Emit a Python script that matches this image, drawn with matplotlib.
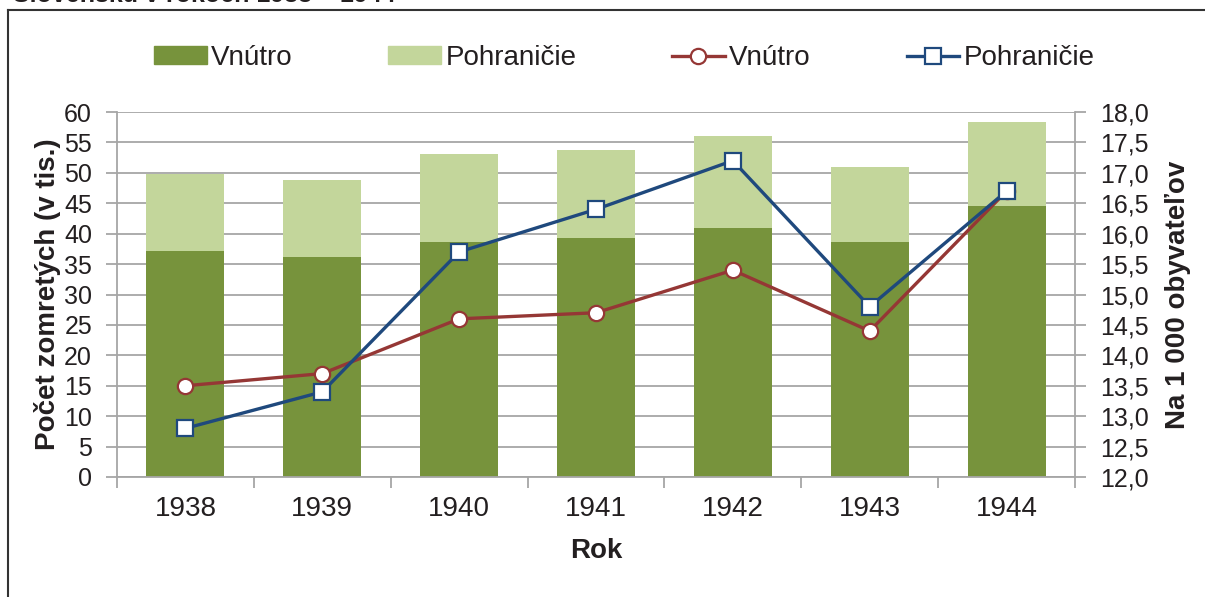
import matplotlib
matplotlib.use("Agg")
import matplotlib.pyplot as plt
import numpy as np
from matplotlib.patches import Patch
from matplotlib.lines import Line2D

plt.rcParams["font.family"] = ["Liberation Sans", "DejaVu Sans"]

# data
years = ["1938", "1939", "1940", "1941", "1942", "1943", "1944"]
deaths_inner = [37.2, 36.1, 38.7, 39.3, 41.0, 38.7, 44.5]      # Vnútro, thousands
deaths_border = [12.6, 12.8, 14.4, 14.4, 15.1, 12.3, 13.8]     # Pohraničie, thousands (stacked)
rate_inner = [13.5, 13.7, 14.6, 14.7, 15.4, 14.4, 16.7]        # per 1000 inhabitants
rate_border = [12.8, 13.4, 15.7, 16.4, 17.2, 14.8, 16.7]

DARK = "#77933C"
LIGHT = "#C3D69B"
RED = "#953735"
BLUE = "#1F497D"
GRID = "#A6A6A6"
INK = "#231F20"

fig = plt.figure(figsize=(12.05, 5.97), dpi=100)
ax = fig.add_axes([117 / 1205, 1 - 477 / 597, (1075 - 117) / 1205, (477 - 112) / 597])
x = np.arange(len(years))

ax.bar(x, deaths_inner, 0.57, color=DARK, zorder=2)
ax.bar(x, deaths_border, 0.57, bottom=deaths_inner, color=LIGHT, zorder=2)
ax.set_xlim(-0.5, len(years) - 0.5)
ax.set_ylim(0, 60)
ax.set_yticks(np.arange(0, 61, 5))
ax.yaxis.grid(True, color=GRID, lw=1.3, zorder=0)
ax.set_axisbelow(True)
for s in ["top", "right"]:
    ax.spines[s].set_visible(False)
for s in ["left", "bottom"]:
    ax.spines[s].set_color(GRID)
    ax.spines[s].set_linewidth(1.3)
ax.set_xticks(x)
ax.set_xticklabels(years)
ax.set_xticks(np.arange(-0.5, len(years)), minor=True)
ax.tick_params(axis="x", which="major", length=0, pad=14, labelsize=20, labelcolor=INK)
ax.tick_params(axis="x", which="minor", length=8, color=GRID, width=1.3)
ax.tick_params(axis="y", length=8, color=GRID, width=1.3, labelsize=18, pad=10,
               labelcolor=INK)
ax.set_xlabel("Rok", fontsize=20, fontweight="bold", labelpad=11, color=INK)
ax.set_ylabel("Počet zomretých (v tis.)", fontsize=20, fontweight="bold", labelpad=2,
              color=INK)

ax2 = ax.twinx()
ax2.plot(x, rate_inner, color=RED, lw=2.4, marker="o", ms=11, mfc="white",
         mec=RED, mew=1.6, zorder=3)
ax2.plot(x, rate_border, color=BLUE, lw=2.4, marker="s", ms=11, mfc="white",
         mec=BLUE, mew=1.6, zorder=4)
ax2.set_ylim(12, 18)
ax2.set_yticks(np.arange(12, 18.01, 0.5))
ax2.set_yticklabels([f"{v:.1f}".replace(".", ",") for v in np.arange(12, 18.01, 0.5)])
for s in ["top", "left", "bottom"]:
    ax2.spines[s].set_visible(False)
ax2.spines["right"].set_color(GRID)
ax2.spines["right"].set_linewidth(1.3)
ax2.tick_params(axis="y", length=8, color=GRID, width=1.3, labelsize=18, pad=10,
                labelcolor=INK)
ax2.set_ylabel("Na 1 000 obyvateľov", fontsize=20, fontweight="bold", labelpad=12,
               color=INK)

handles = [
    Patch(color=DARK, label="Vnútro"),
    Patch(color=LIGHT, label="Pohraničie"),
    Line2D([], [], color=RED, lw=2.4, marker="o", ms=11, mfc="white", mec=RED, mew=1.6, label="Vnútro"),
    Line2D([], [], color=BLUE, lw=2.4, marker="s", ms=11, mfc="white", mec=BLUE, mew=1.6, label="Pohraničie"),
]
leg = fig.legend(handles=handles, loc="center", bbox_to_anchor=(0.518, 1 - 58 / 597), ncol=4,
                 frameon=False, fontsize=20, handlelength=1.9, handletextpad=0.15,
                 columnspacing=3.45, handleheight=0.6)
for t in leg.get_texts():
    t.set_color(INK)

# frame and the clipped title from the source page
fig.add_artist(Line2D([8 / 1205, 8 / 1205], [0, 1 - 10 / 597], color="#333333", lw=1.5))
fig.add_artist(Line2D([8 / 1205, 1], [1 - 10 / 597, 1 - 10 / 597], color="#333333", lw=1.5))
fig.text(13 / 1205, 1 - 1.5 / 597, "Slovensku v rokoch 1938 – 1944", fontsize=18,
         fontweight="bold", va="baseline", ha="left", color=INK)

fig.savefig("out.png", dpi=100)
